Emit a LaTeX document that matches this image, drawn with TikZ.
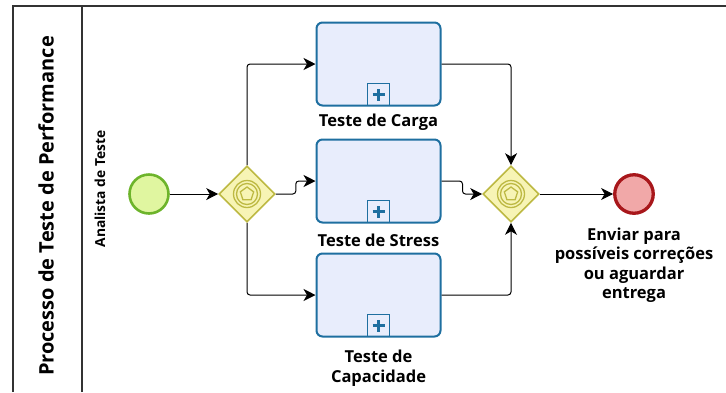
\documentclass[tikz,border=0pt]{standalone}
\usepackage{fontspec}
\setmainfont{Open Sans}
\usetikzlibrary{shapes.geometric, positioning, arrows.meta}

\definecolor{startfill}{HTML}{E0F6A0}
\definecolor{startline}{HTML}{6DB42B}
\definecolor{endfill}{HTML}{F1A8A8}
\definecolor{endline}{HTML}{A8171B}
\definecolor{taskfill}{HTML}{E8EDFC}
\definecolor{taskline}{HTML}{1E6FA0}
\definecolor{gatefill}{HTML}{F7F4B5}
\definecolor{gateline}{HTML}{BDB943}

\begin{document}
\begin{tikzpicture}
	[x=1pt, y=1pt, on grid,
	 pool/.style={draw=black!80, line width=1.2pt},
	 flow/.style={-{Stealth[length=12pt,width=12pt,inset=3.5pt]}, line width=1pt, rounded corners=3pt},
	 lbl/.style={align=center, inner sep=0pt, font=\fontsize{16.5}{19.5}\selectfont\bfseries},
	 startev/.style={circle, draw=startline, fill=startfill, line width=2.6pt, minimum size=39pt, inner sep=0pt},
	 endev/.style={circle, draw=endline, fill=endfill, line width=3.3pt, minimum size=38.5pt, inner sep=0pt},
	 gate/.style={diamond, draw=gateline, fill=gatefill, line width=1.6pt, minimum width=56pt, minimum height=56pt, inner sep=0pt,
	   path picture={
	     \draw[gateline, line width=1.3pt] (path picture bounding box.center) circle (13.5pt) circle (10.5pt);
	     \draw[gateline, line width=1.3pt, shift={(path picture bounding box.center)}]
	       (90:7pt) -- (162:7pt) -- (234:7pt) -- (306:7pt) -- (18:7pt) -- cycle;}},
	 task/.style={rectangle, rounded corners=6pt, draw=taskline, fill=taskfill, line width=2pt, minimum width=124pt, minimum height=83pt,
	   path picture={
	     \draw[taskline, sharp corners, line width=1.6pt] ([xshift=-11pt]path picture bounding box.south) rectangle ++(22pt,22pt);
	     \draw[taskline, sharp corners, line width=3.4pt]
	       ([xshift=-6pt,yshift=11pt]path picture bounding box.south) -- ++(12pt,0pt)
	       ([yshift=5pt]path picture bounding box.south) -- ++(0pt,12pt);}}]
   \useasboundingbox (0,0) rectangle (726,-392);
   % pool and lane
   \draw[pool] (13,-392) -- (13,-6) -- (726,-6);
   \draw[pool] (82,-392) -- (82,-6);
   \node[lbl, font=\fontsize{20}{24}\selectfont\bfseries, rotate=90] (poolname) at (46,-206) {Processo de Teste de Performance};
   \node[lbl, font=\fontsize{13.8}{16}\selectfont\bfseries, rotate=90] (lanename) at (100,-189) {Analista de Teste};
   % events, gateways and tasks
   \node[startev] (start) at (149,-194) {};
   \node[gate] (g1) [right=98pt of start] {};
   \node[task] (t2) [above right=13pt and 131.5pt of g1] {};
   \node[task] (t1) [above=117pt of t2] {};
   \node[task] (t3) [below=114pt of t2] {};
   \node[gate] (g2) [right=264pt of g1] {};
   \node[endev] (end) [right=123pt of g2] {};
   % labels
   \node[lbl] (t1name) [below=58pt of t1] {Teste de Carga};
   \node[lbl] (t2name) [below=59pt of t2] {Teste de Stress};
   \node[lbl] (t3name) [below=73pt of t3] {Teste de\\Capacidade};
   \node[lbl] (endname) [below=71pt of end] {Enviar para\\possíveis correções\\ou aguardar\\entrega};
   % sequence flows
   \draw[flow] (start) -- (g1);
   \draw[flow] (g1) |- (t1);
   \draw[flow] (g1.east) -- ++(20,0) |- (t2);
   \draw[flow] (g1) |- (t3);
   \draw[flow] (t1) -| (g2);
   \draw[flow] (t2.east) -- ++(21,0) |- (g2);
   \draw[flow] (t3) -| (g2);
   \draw[flow] (g2) -- (end);
\end{tikzpicture}
\end{document}
